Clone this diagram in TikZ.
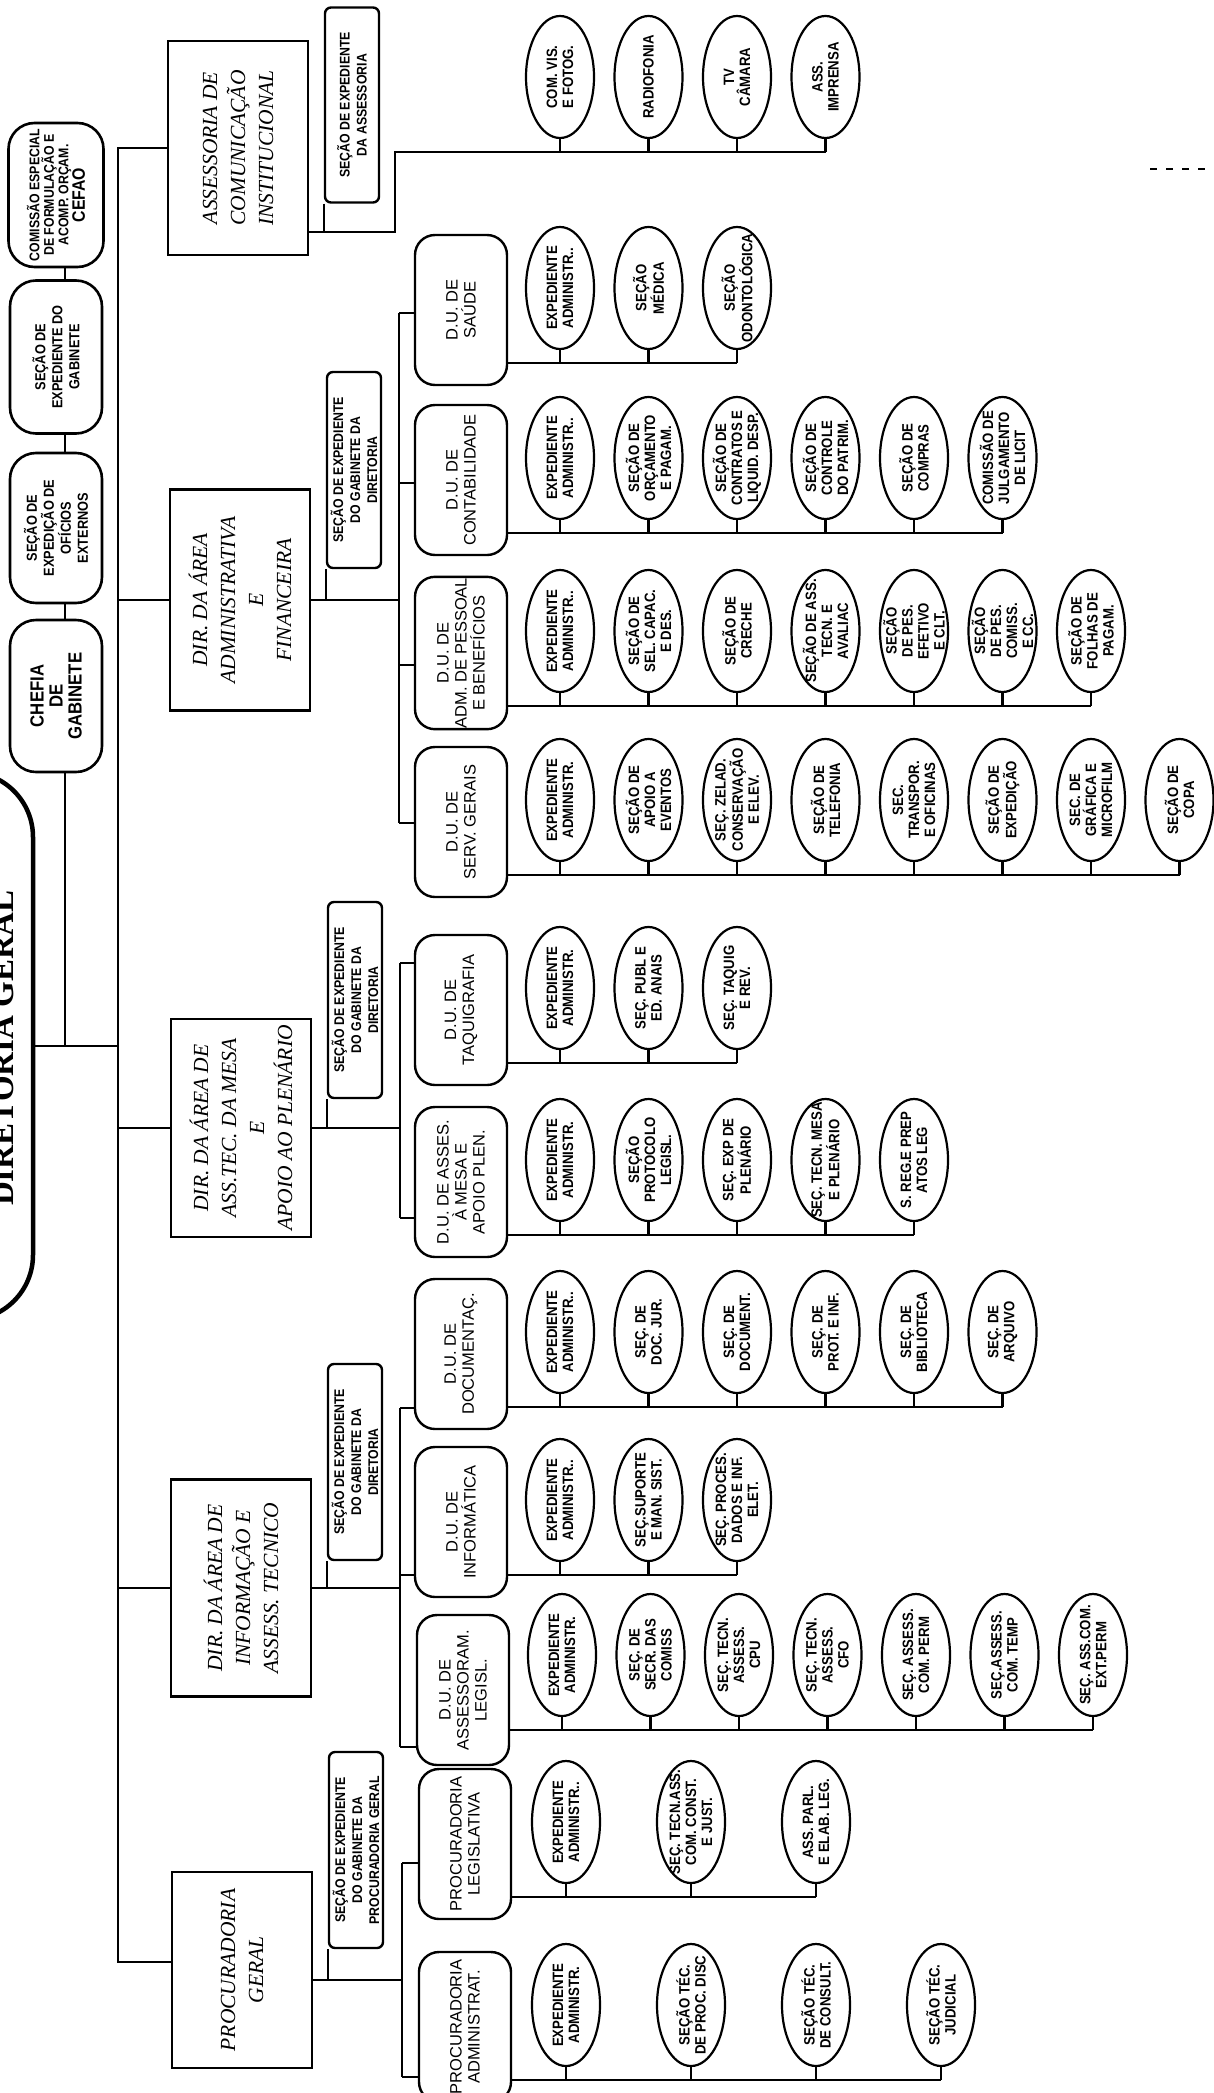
\documentclass[tikz,border=0pt]{standalone}
\usepackage{fontspec}
\setmainfont{Liberation Serif}
\setsansfont{Liberation Sans}
\newfontfamily\nrwfont[FakeStretch=0.88]{Liberation Sans}
\usetikzlibrary{shapes.geometric}
\tikzset{
  ln/.style={line width=2.2pt},
  ell/.style={ellipse,draw,line width=2.2pt,minimum width=122pt,minimum height=68pt,inner sep=0pt,rotate=90},
  etxt/.style={rotate=90,align=center,inner sep=0pt,font=\nrwfont\bfseries\fontsize{15}{16}\selectfont},
  dubox/.style={draw,line width=2.4pt,rounded corners=20pt,minimum width=150pt,minimum height=92pt,inner sep=1pt,rotate=90,align=center,font=\sffamily\fontsize{16.5}{18}\selectfont},
  dirbox/.style={draw,line width=2.8pt,minimum height=140pt,inner sep=2pt,rotate=90,align=center,font=\itshape\fontsize{21.5}{28}\selectfont},
  secbox/.style={draw,line width=2.4pt,rounded corners=6pt,minimum width=196pt,minimum height=54pt,inner sep=1pt,rotate=90,align=center,font=\nrwfont\bfseries\fontsize{14}{17}\selectfont},
  gabbox/.style={draw,line width=2.6pt,rounded corners=26pt,minimum height=92pt,inner sep=1pt,rotate=90,align=center,font=\nrwfont\bfseries\fontsize{14.5}{17}\selectfont}
}

\begin{document}
\begin{tikzpicture}[x=1pt,y=-1pt]
\useasboundingbox (0,0) rectangle (1214,2093);
\fill[white] (0,0) rectangle (1214,2093);
% diretoria geral (cut by the page edge)
\node[draw,line width=4.5pt,rounded corners=65pt,minimum width=548pt,minimum height=190pt,rotate=90] (dg) at (-62,1046) {};
\node[rotate=90,anchor=base,font=\bfseries\fontsize{33}{33}\selectfont] (dgt) at (13,1048) {DIRETORIA GERAL};
\coordinate (tr) at (118,0);
\coordinate (ptr) at (118,1962);
\coordinate (gj) at (65,1046);
\draw[ln] (dg.south) -- (dg.south -| tr);
% gabinete
\node[gabbox,minimum width=144pt,minimum height=95pt,font=\nrwfont\bfseries\fontsize{14}{14.5}\selectfont] (cefao) at (56,195) {COMISSÃO ESPECIAL\\DE FORMULAÇÃO E\\ACOMP. ORÇAM.\\{\fontsize{18}{18}\selectfont CEFAO}};
\node[gabbox,minimum width=153pt] (sexp) at (56,357) {SEÇÃO DE\\EXPEDIENTE DO\\GABINETE};
\node[gabbox,minimum width=150pt] (sof) at (56,528) {SEÇÃO DE\\EXPEDIÇÃO DE\\OFÍCIOS\\EXTERNOS};
\node[gabbox,minimum width=152pt,font=\nrwfont\bfseries\fontsize{19}{19}\selectfont] (chefia) at (56,696) {CHEFIA\\DE\\GABINETE};
\draw[ln] (cefao.west -| gj) -- (sexp.east -| gj);
\draw[ln] (sexp.west -| gj) -- (sof.east -| gj);
\draw[ln] (sof.west -| gj) -- (chefia.east -| gj);
\draw[ln] (chefia.west -| gj) -- (gj);
% diretorias
\node[dirbox,minimum width=214pt] (ass) at (238,148) {ASSESSORIA DE\\COMUNICAÇÃO\\INSTITUCIONAL};
\node[dirbox,minimum width=221pt] (adm) at (240,600) {DIR. DA ÁREA\\ADMINISTRATIVA\\E\\FINANCEIRA};
\node[dirbox,minimum width=218pt] (mesa) at (241,1128) {DIR. DA ÁREA DE\\ASS.TEC. DA MESA\\E\\APOIO AO PLENÁRIO};
\node[dirbox,minimum width=217pt] (info) at (241,1588) {DIR. DA ÁREA DE\\INFORMAÇÃO E\\ASSESS. TECNICO};
\node[dirbox,minimum width=196pt] (pg) at (242,1970) {PROCURADORIA\\GERAL};
\draw[ln] (ass.north) -- (ass.north -| tr) -- (ptr) -- (ptr -| pg.north);
\foreach \d in {adm,mesa,info} \draw[ln] (\d.north -| tr) -- (\d.north);
% assessoria
\node[secbox,minimum width=195pt] (asec) at (352,105) {SEÇÃO DE EXPEDIENTE\\DA ASSESSORIA};
\coordinate (asJ) at (395,232);
\coordinate (asL) at (0,152);
\foreach \lbl [count=\i] in {{COM. VIS.\\E FOTOG.},{RADIOFONIA},{TV\\CÂMARA},{ASS.\\IMPRENSA}}{
  \node[ell] (as\i) at ({560+88.5*(\i-1)},77) {};
  \node[etxt] (ast\i) at (as\i) {\lbl};
  \draw[ln] (as\i.west) -- (as\i.west |- asL);
}
\draw[ln] (ass.south |- asJ) -- (asJ) -- (asJ |- asL) -- (as4.west |- asL);
\draw[ln] (asec.north west) -- (asec.north west |- asJ);
\draw[line width=1.2pt,dash pattern=on 7pt off 9pt] (1150,169) -- (1214,169);
% area administrativa e financeira
\node[secbox] (admsec) at (354,470) {SEÇÃO DE EXPEDIENTE\\DO GABINETE DA\\DIRETORIA};
\coordinate (sauC) at (399,313);
\coordinate (conC) at (399,483);
\coordinate (admpC) at (399,665);
\coordinate (servC) at (399,823);
\draw[ln] (adm.south) -- (adm.south -| sauC);
\draw[ln] (sauC) -- (servC);
\draw[ln] (admsec.north west) -- (admsec.north west |- adm.south);
% d.u. de saude
\node[dubox] (sau) at (461,310) {D.U. DE\\SAÚDE};
\coordinate (sauL) at (0,363);
\foreach \lbl [count=\i] in {{EXPEDIENTE\\ADMINISTR..},{SEÇÃO\\MÉDICA},{SEÇÃO\\ODONTOLÓGICA}}{
  \node[ell] (sau\i) at ({560+88.5*(\i-1)},288) {};
  \node[etxt] (saut\i) at (sau\i) {\lbl};
  \draw[ln] (sau\i.west) -- (sau\i.west |- sauL);
}
\draw[ln] (sau.south |- sauL) -- (sau3.west |- sauL);
\draw[ln] (sauC) -- (sauC -| sau.north);
% d.u. de contabilidade
\node[dubox] (con) at (461,480) {D.U. DE\\CONTABILIDADE};
\coordinate (conL) at (0,533);
\foreach \lbl [count=\i] in {{EXPEDIENTE\\ADMINISTR..},{SEÇÃO DE\\ORÇAMENTO\\E PAGAM.},{SEÇÃO DE\\CONTRATOS E\\LIQUID. DESP.},{SEÇÃO DE\\CONTROLE\\DO PATRIM.},{SEÇÃO DE\\COMPRAS},{COMISSÃO DE\\JULGAMENTO\\DE LICIT}}{
  \node[ell] (con\i) at ({560+88.5*(\i-1)},458) {};
  \node[etxt] (cont\i) at (con\i) {\lbl};
  \draw[ln] (con\i.west) -- (con\i.west |- conL);
}
\draw[ln] (con.south |- conL) -- (con6.west |- conL);
\draw[ln] (conC) -- (conC -| con.north);
% d.u. de adm. de pessoal
\node[dubox] (admp) at (461,653) {D.U. DE\\ADM. DE PESSOAL\\E BENEFÍCIOS};
\coordinate (admpL) at (0,706);
\foreach \lbl [count=\i] in {{EXPEDIENTE\\ADMINISTR..},{SEÇÃO DE\\SEL. CAPAC.\\E DES.},{SEÇÃO DE\\CRECHE},{SEÇÃO DE ASS.\\TECN. E\\AVALIAC},{SEÇÃO\\DE PES.\\EFETIVO\\E CLT.},{SEÇÃO\\DE PES.\\COMISS.\\E CC.},{SEÇÃO DE\\FOLHAS DE\\PAGAM.}}{
  \node[ell] (admp\i) at ({560+88.5*(\i-1)},631) {};
  \node[etxt] (admpt\i) at (admp\i) {\lbl};
  \draw[ln] (admp\i.west) -- (admp\i.west |- admpL);
}
\draw[ln] (admp.south |- admpL) -- (admp7.west |- admpL);
\draw[ln] (admpC) -- (admpC -| admp.north);
% d.u. de serv. gerais
\node[dubox] (serv) at (461,822) {D.U. DE\\SERV. GERAIS};
\coordinate (servL) at (0,875);
\foreach \lbl [count=\i] in {{EXPEDIENTE\\ADMINISTR.},{SEÇÃO DE\\APOIO A\\EVENTOS},{SEÇ. ZELAD.\\CONSERVAÇÃO\\E ELEV.},{SEÇÃO DE\\TELEFONIA},{SEC.\\TRANSPOR.\\E OFICINAS},{SEÇÃO DE\\EXPEDIÇÃO},{SEC. DE\\GRÁFICA E\\MICROFILM},{SEÇÃO DE\\COPA}}{
  \node[ell] (serv\i) at ({560+88.5*(\i-1)},800) {};
  \node[etxt] (servt\i) at (serv\i) {\lbl};
  \draw[ln] (serv\i.west) -- (serv\i.west |- servL);
}
\draw[ln] (serv.south |- servL) -- (serv8.west |- servL);
\draw[ln] (servC) -- (servC -| serv.north);
% area da mesa e apoio ao plenario
\node[secbox] (mesasec) at (355,1000) {SEÇÃO DE EXPEDIENTE\\DO GABINETE DA\\DIRETORIA};
\coordinate (taqC) at (400,963);
\coordinate (asmC) at (400,1218);
\draw[ln] (mesa.south) -- (mesa.south -| taqC);
\draw[ln] (taqC) -- (asmC);
\draw[ln] (mesasec.north west) -- (mesasec.north west |- mesa.south);
% d.u. de taquigrafia
\node[dubox] (taq) at (461,1010) {D.U. DE\\TAQUIGRAFIA};
\coordinate (taqL) at (0,1063);
\foreach \lbl [count=\i] in {{EXPEDIENTE\\ADMINISTR.},{SEÇ. PUBL E\\ED. ANAIS},{SEÇ. TAQUIG\\E REV.}}{
  \node[ell] (taq\i) at ({560+88.5*(\i-1)},988) {};
  \node[etxt] (taqt\i) at (taq\i) {\lbl};
  \draw[ln] (taq\i.west) -- (taq\i.west |- taqL);
}
\draw[ln] (taq.south |- taqL) -- (taq3.west |- taqL);
\draw[ln] (taqC) -- (taqC -| taq.north);
% d.u. de asses. a mesa
\node[dubox] (asm) at (461,1182) {D.U. DE ASSES.\\À MESA E\\APOIO PLEN.};
\coordinate (asmL) at (0,1235);
\foreach \lbl [count=\i] in {{EXPEDIENTE\\ADMINISTR.},{SEÇÃO\\PROTOCOLO\\LEGISL.},{SEÇ. EXP DE\\PLENÁRIO},{SEÇ. TECN. MESA\\E PLENÁRIO},{S. REG.E PREP\\ATOS LEG}}{
  \node[ell] (asm\i) at ({560+88.5*(\i-1)},1160) {};
  \node[etxt] (asmt\i) at (asm\i) {\lbl};
  \draw[ln] (asm\i.west) -- (asm\i.west |- asmL);
}
\draw[ln] (asm.south |- asmL) -- (asm5.west |- asmL);
\draw[ln] (asmC) -- (asmC -| asm.north);
% area de informacao
\node[secbox] (infosec) at (355,1462) {SEÇÃO DE EXPEDIENTE\\DO GABINETE DA\\DIRETORIA};
\coordinate (docC) at (400,1408);
\coordinate (infC) at (400,1575);
\coordinate (aslC) at (400,1747);
\draw[ln] (info.south) -- (info.south -| docC);
\draw[ln] (docC) -- (aslC);
\draw[ln] (infosec.north west) -- (infosec.north west |- info.south);
% d.u. de documentacao
\node[dubox] (doc) at (461,1354) {D.U. DE\\DOCUMENTAÇ.};
\coordinate (docL) at (0,1407);
\foreach \lbl [count=\i] in {{EXPEDIENTE\\ADMINISTR..},{SEÇ. DE\\DOC. JUR.},{SEÇ. DE\\DOCUMENT.},{SEÇ. DE\\PROT. E INF.},{SEÇ. DE\\BIBLIOTECA},{SEÇ. DE\\ARQUIVO}}{
  \node[ell] (doc\i) at ({560+88.5*(\i-1)},1332) {};
  \node[etxt] (doct\i) at (doc\i) {\lbl};
  \draw[ln] (doc\i.west) -- (doc\i.west |- docL);
}
\draw[ln] (doc.south |- docL) -- (doc6.west |- docL);
\draw[ln] (docC) -- (docC -| doc.north);
% d.u. de informatica
\node[dubox] (inf) at (461,1522) {D.U. DE\\INFORMÁTICA};
\coordinate (infL) at (0,1575);
\foreach \lbl [count=\i] in {{EXPEDIENTE\\ADMINISTR..},{SEÇ.SUPORTE\\E MAN. SIST.},{SEÇ. PROCES.\\DADOS E INF.\\ELET.}}{
  \node[ell] (inf\i) at ({560+88.5*(\i-1)},1500) {};
  \node[etxt] (inft\i) at (inf\i) {\lbl};
  \draw[ln] (inf\i.west) -- (inf\i.west |- infL);
}
\draw[ln] (inf.south |- infL) -- (inf3.west |- infL);
\draw[ln] (infC) -- (infC -| inf.north);
% d.u. de assessoram. legisl.
\node[dubox] (asl) at (463,1690) {D.U. DE\\ASSESSORAM.\\LEGISL.};
\coordinate (aslL) at (0,1730);
\foreach \lbl [count=\i] in {{EXPEDIENTE\\ADMINISTR.},{SEÇ. DE\\SECR. DAS\\COMISS},{SEÇ. TECN.\\ASSESS.\\CPU},{SEÇ. TECN.\\ASSESS.\\CFO},{SEÇ. ASSESS.\\COM. PERM},{SEÇ.ASSESS.\\COM. TEMP},{SEÇ. ASS.COM.\\EXT.PERM}}{
  \node[ell] (asl\i) at ({562+88.5*(\i-1)},1655) {};
  \node[etxt] (aslt\i) at (asl\i) {\lbl};
  \draw[ln] (asl\i.west) -- (asl\i.west |- aslL);
}
\draw[ln] (asl.south |- aslL) -- (asl7.west |- aslL);
\draw[ln] (aslC) -- (aslC -| asl.north);
% procuradoria geral
\node[secbox] (pgsec) at (356,1850) {SEÇÃO DE EXPEDIENTE\\DO GABINETE DA\\PROCURADORIA GERAL};
\coordinate (plegC) at (402,1863);
\coordinate (padmC) at (402,2077);
\coordinate (pJ) at (402,1980);
\draw[ln] (pg.south |- pJ) -- (pJ);
\draw[ln] (plegC) -- (padmC);
\draw[ln] (pgsec.north west) -- (pgsec.north west |- pJ);
% procuradoria legislativa
\node[dubox] (pleg) at (465,1844) {PROCURADORIA\\LEGISLATIVA};
\coordinate (plegL) at (0,1897);
\foreach \lbl [count=\i] in {{EXPEDIENTE\\ADMINISTR..},{SEÇ. TECN.ASS.\\COM. CONST.\\E JUST.},{ASS. PARL.\\E ELAB. LEG.}}{
  \node[ell] (pleg\i) at ({566+125*(\i-1)},1822) {};
  \node[etxt] (plegt\i) at (pleg\i) {\lbl};
  \draw[ln] (pleg\i.west) -- (pleg\i.west |- plegL);
}
\draw[ln] (pleg.south |- plegL) -- (pleg3.west |- plegL);
\draw[ln] (plegC) -- (plegC -| pleg.north);
% procuradoria administrativa
\node[dubox] (padm) at (465,2027) {PROCURADORIA\\ADMINISTRAT.};
\coordinate (padmL) at (0,2080);
\foreach \lbl [count=\i] in {{EXPEDIENTE\\ADMINISTR.},{SEÇÃO TÉC.\\DE PROC. DISC},{SEÇÃO TÉC.\\DE CONSULT.},{SEÇÃO TÉC.\\JUDICIAL}}{
  \node[ell] (padm\i) at ({566+125*(\i-1)},2005) {};
  \node[etxt] (padmt\i) at (padm\i) {\lbl};
  \draw[ln] (padm\i.west) -- (padm\i.west |- padmL);
}
\draw[ln] (padm.south |- padmL) -- (padm4.west |- padmL);
\draw[ln] (padmC) -- (padmC -| padm.north);
\end{tikzpicture}
\end{document}
